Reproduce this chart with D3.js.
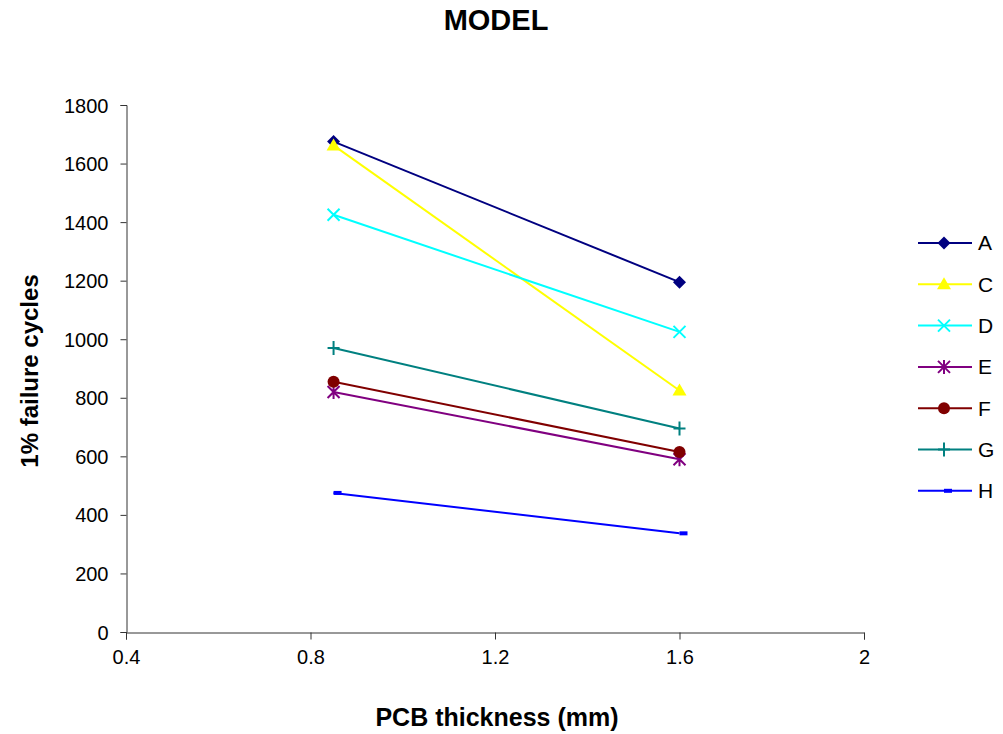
<!DOCTYPE html>
<html>
<head>
<meta charset="utf-8">
<script src="https://cdn.jsdelivr.net/npm/d3@7"></script>
<style>
  html, body { margin: 0; padding: 0; background: #fff; }
  svg { display: block; font-family: "Liberation Sans", Arial, sans-serif; }
</style>
</head>
<body>
<svg id="chart" width="1003" height="734"></svg>
<script>
// PCB thickness (mm) at which each model was evaluated
const thickness = [0.85, 1.6];

// 1% failure cycles for each model
const seriesNames = ["A", "C", "D", "E", "F", "G", "H"];
const valuesA = [1675, 1195];
const valuesC = [1662, 825];
const valuesD = [1425, 1025];
const valuesE = [820, 590];
const valuesF = [855, 615];
const valuesG = [970, 695];
const valuesH = [475, 337];

const seriesColors = ["#000080", "#FFFF00", "#00FFFF", "#800080", "#800000", "#008080", "#0000FF"];
const seriesMarkers = ["diamond", "triangle", "x", "asterisk", "circle", "plus", "dash"];

const xTicks = [0.4, 0.8, 1.2, 1.6, 2];
const yTicks = [0, 200, 400, 600, 800, 1000, 1200, 1400, 1600, 1800];

const series = [valuesA, valuesC, valuesD, valuesE, valuesF, valuesG, valuesH].map((vals, i) => ({
  name: seriesNames[i],
  color: seriesColors[i],
  marker: seriesMarkers[i],
  points: vals.map((v, j) => ({ x: thickness[j], y: v }))
}));

const svg = d3.select("#chart");

const x = d3.scaleLinear().domain([0.4, 2]).range([126, 864]);
const y = d3.scaleLinear().domain([0, 1800]).range([632, 105]);

// Axes
const xAxis = svg.append("g")
  .attr("transform", "translate(0,632.5)")
  .call(d3.axisBottom(x).tickValues(xTicks).tickSize(7).tickPadding(10)
    .tickFormat(d => String(d)));
const yAxis = svg.append("g")
  .attr("transform", "translate(126.5,0)")
  .call(d3.axisLeft(y).tickValues(yTicks).tickSize(6).tickPadding(12)
    .tickFormat(d => String(d)));

[xAxis, yAxis].forEach(g => {
  g.select(".domain").attr("stroke", "#333").attr("stroke-width", 1);
  g.selectAll(".tick line").attr("stroke", "#333");
  g.selectAll(".tick text")
    .attr("fill", "#000")
    .style("font-size", "20px")
    .style("font-family", "'Liberation Sans', Arial, sans-serif");
});
yAxis.selectAll(".tick text").attr("dy", "0.35em");

// Marker shapes
function drawMarker(g, type, color) {
  switch (type) {
    case "diamond":
      g.append("path").attr("d", "M0,-6.5L6.5,0L0,6.5L-6.5,0Z").attr("fill", color);
      break;
    case "triangle":
      g.append("path").attr("d", "M0,-7L7,5L-7,5Z").attr("fill", color);
      break;
    case "x":
      g.append("path").attr("d", "M-6,-6L6,6M-6,6L6,-6")
        .attr("stroke", color).attr("stroke-width", 2).attr("fill", "none");
      break;
    case "asterisk":
      g.append("path").attr("d", "M-6,-6L6,6M-6,6L6,-6M0,-7L0,7")
        .attr("stroke", color).attr("stroke-width", 2).attr("fill", "none");
      break;
    case "circle":
      g.append("circle").attr("r", 6).attr("fill", color);
      break;
    case "plus":
      g.append("path").attr("d", "M-6,0L6,0M0,-7L0,7")
        .attr("stroke", color).attr("stroke-width", 2).attr("fill", "none");
      break;
    case "dash":
      g.append("rect").attr("x", 0).attr("y", -2).attr("width", 8).attr("height", 4).attr("fill", color);
      break;
  }
}

const line = d3.line().x(d => x(d.x)).y(d => y(d.y));

// Series lines and markers
series.forEach(s => {
  const g = svg.append("g");
  g.append("path")
    .datum(s.points)
    .attr("d", line)
    .attr("fill", "none")
    .attr("stroke", s.color)
    .attr("stroke-width", 2);
  s.points.forEach(p => {
    const m = g.append("g").attr("transform", `translate(${x(p.x)},${y(p.y)})`);
    drawMarker(m, s.marker, s.color);
  });
});

// Legend
const legend = svg.append("g");
series.forEach((s, i) => {
  const ly = 243 + i * 41.3;
  const item = legend.append("g").attr("transform", `translate(0,${ly})`);
  item.append("line").attr("x1", 918).attr("x2", 972).attr("y1", 0).attr("y2", 0)
    .attr("stroke", s.color).attr("stroke-width", 2);
  const m = item.append("g").attr("transform", "translate(944,0)");
  drawMarker(m, s.marker, s.color);
  item.append("text").attr("x", 978).attr("y", 0).attr("dy", "0.35em")
    .style("font-size", "21px").text(s.name);
});

// Titles
svg.append("text").attr("x", 496).attr("y", 30).attr("text-anchor", "middle")
  .style("font-size", "29px").style("font-weight", "bold").text("MODEL");
svg.append("text").attr("x", 497).attr("y", 726).attr("text-anchor", "middle")
  .style("font-size", "25px").style("font-weight", "bold").text("PCB thickness (mm)");
svg.append("text").attr("transform", "translate(38,371) rotate(-90)").attr("text-anchor", "middle")
  .style("font-size", "24px").style("font-weight", "bold").text("1% failure cycles");
</script>
</body>
</html>
